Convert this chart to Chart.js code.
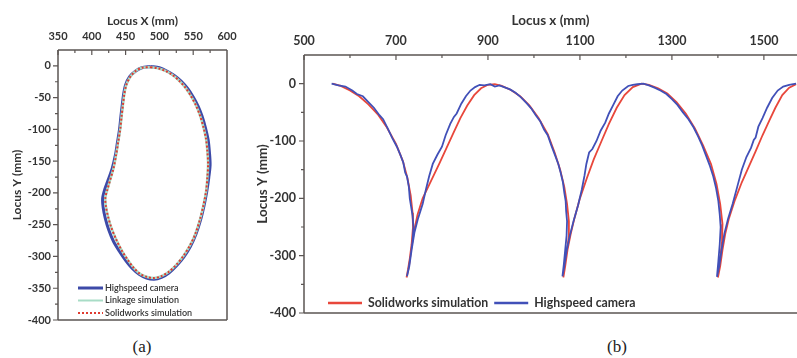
<!DOCTYPE html>
<html>
<head>
<meta charset="utf-8">
<script src="https://cdn.jsdelivr.net/npm/chart.js@4.4.1/dist/chart.umd.min.js"></script>
<style>
    body { margin: 0; background: #fff; width: 797px; height: 358px; position: relative; overflow: hidden; }
    canvas { position: absolute; top: 0; }
    #joonisA { left: 0; }
    #joonisB { left: 250px; }
    .allkiri { position: absolute; top: 337px; font: 17px "Liberation Serif", serif; color: #222; transform: translateX(-50%); }
</style>
</head>
<body>
<canvas id="joonisA" width="250" height="336"></canvas>
<canvas id="joonisB" width="547" height="330"></canvas>
<div class="allkiri" style="left:142px">(a)</div>
<div class="allkiri" style="left:617px">(b)</div>
<script>
// Joonise (a) andmed: [Locus X, Locus Y] mm
const kaameraA = [
    [487, -1], [500, -3], [511, -8], [522, -15], [532, -24], [542, -36], [550, -49], [557, -63],
    [563, -79], [568, -97], [572, -116], [574, -136], [575, -156], [573, -176], [570, -198], [566, -220],
    [561, -242], [554, -265], [546, -284], [536, -301], [525, -315], [514, -326], [503, -333], [492, -336],
    [481, -334], [470, -328], [460, -319], [450, -306], [441, -292], [432, -276], [425, -258], [420, -240],
    [417, -224], [416, -209], [419, -195], [424, -180], [430, -162], [435, -140], [438, -120], [441, -100],
    [443, -80], [445, -62], [447, -45], [450, -30], [456, -17], [465, -8], [474, -3], [487, -1]
];
const lingidA = [
    [487, -2], [499, -4], [509, -8], [519, -14], [529, -23], [539, -35], [547, -48], [554, -62],
    [560, -78], [565, -96], [569, -115], [571, -135], [572, -155], [571, -175], [569, -198], [565, -220],
    [560, -242], [553, -265], [545, -283], [535, -300], [525, -313], [514, -324], [503, -331], [492, -334],
    [481, -332], [471, -327], [462, -318], [453, -305], [444, -290], [436, -273], [429, -255], [424, -237],
    [421, -222], [420, -208], [423, -195], [427, -180], [432, -162], [436, -140], [439, -120], [442, -100],
    [444, -80], [446, -62], [448, -45], [451, -30], [457, -17], [465, -8], [474, -3], [487, -2]
];
const solidworksA = [
    [487, -2], [499, -4], [509, -8], [519, -14], [529, -23], [539, -35], [547, -48], [554, -62],
    [560, -78], [565, -96], [569, -115], [571, -135], [572, -155], [571, -175], [569, -198], [565, -220],
    [560, -242], [553, -265], [545, -283], [535, -300], [525, -313], [514, -324], [503, -331], [492, -334],
    [481, -332], [471, -327], [462, -318], [453, -305], [444, -290], [436, -273], [429, -255], [424, -237],
    [421, -222], [420, -208], [423, -195], [427, -180], [432, -162], [436, -140], [439, -120], [442, -100],
    [444, -80], [446, -62], [448, -45], [451, -30], [457, -17], [465, -8], [474, -3], [487, -2]
];

// Joonise (b) andmed: [Locus x, Locus Y] mm
const solidworksB = [
    [562, 0], [580, -4], [600, -12], [620, -22], [640, -36], [660, -53], [680, -76], [700, -105],
    [715, -135], [725, -165], [732, -195], [736, -225], [737, -250], [734, -280], [730, -305], [726, -325],
    [723, -338], [728, -320], [733, -290], [739, -258], [747, -228], [758, -200], [770, -180], [782, -160],
    [795, -138], [810, -112], [825, -86], [840, -60], [855, -38], [870, -20], [885, -8], [900, -2],
    [915, -1], [930, -4], [950, -11], [970, -22], [990, -38], [1010, -60], [1030, -88], [1045, -120],
    [1057, -150], [1066, -180], [1072, -210], [1076, -240], [1076, -265], [1072, -290], [1068, -315], [1064, -338],
    [1068, -318], [1073, -290], [1080, -262], [1088, -235], [1100, -200], [1115, -165], [1130, -132], [1147, -100],
    [1163, -70], [1180, -42], [1197, -20], [1215, -6], [1234, 0], [1250, -2], [1270, -8], [1290, -17],
    [1310, -32], [1330, -52], [1350, -78], [1368, -108], [1385, -140], [1397, -175], [1405, -210], [1410, -245],
    [1409, -275], [1405, -305], [1402, -325], [1400, -338], [1405, -318], [1410, -290], [1416, -262], [1424, -235],
    [1437, -203], [1452, -172], [1467, -145], [1482, -118], [1497, -90], [1512, -64], [1525, -42], [1540, -20],
    [1555, -7], [1570, -1]
];
const kaameraB = [
    [560, 0], [575, -3], [590, -5], [605, -12], [615, -18], [628, -22], [640, -32], [652, -42],
    [664, -55], [672, -62], [682, -78], [692, -95], [702, -110], [710, -125], [716, -138], [720, -155],
    [724, -162], [728, -180], [730, -200], [733, -215], [736, -230], [738, -250], [736, -275], [732, -300],
    [728, -320], [724, -336], [729, -318], [734, -290], [740, -260], [748, -235], [758, -210], [765, -185],
    [772, -162], [780, -140], [790, -124], [800, -110], [808, -90], [818, -70], [826, -58], [832, -52],
    [842, -35], [852, -22], [862, -12], [872, -6], [882, -2], [892, -3], [905, -1], [915, -5],
    [925, -3], [935, -6], [948, -10], [960, -16], [972, -24], [984, -34], [994, -43], [1004, -55],
    [1014, -66], [1022, -80], [1030, -90], [1038, -108], [1046, -125], [1053, -140], [1058, -155], [1063, -172],
    [1066, -190], [1069, -205], [1070, -222], [1072, -240], [1071, -265], [1068, -290], [1065, -315], [1062, -336],
    [1066, -318], [1071, -292], [1078, -265], [1086, -240], [1096, -212], [1104, -185], [1110, -160], [1114, -140],
    [1120, -120], [1127, -114], [1136, -100], [1145, -82], [1155, -68], [1163, -52], [1172, -38], [1182, -22],
    [1192, -12], [1205, -4], [1215, -2], [1225, -1], [1238, 0], [1250, -3], [1262, -7], [1275, -12],
    [1288, -18], [1300, -27], [1312, -37], [1324, -50], [1336, -62], [1347, -76], [1357, -92], [1366, -108],
    [1374, -125], [1382, -142], [1390, -162], [1396, -182], [1401, -205], [1404, -228], [1406, -250], [1404, -280],
    [1401, -310], [1398, -337], [1403, -318], [1408, -290], [1414, -262], [1422, -236], [1432, -210], [1442, -180],
    [1452, -150], [1462, -128], [1472, -112], [1478, -98], [1482, -94], [1488, -75], [1497, -60], [1507, -42],
    [1518, -25], [1530, -12], [1542, -5], [1555, -2], [1570, 0]
];

// Paaridest punktid
const punktid = (paarid) => paarid.map(([x, y]) => ({ x: x, y: y }));

const tekstiVarv = '#333';
const teljeVarv = '#5b5553';

// Plugin, mis joonistab raami ja tikid
const raamJaTikid = {
    id: 'raamJaTikid',
    afterDraw(chart) {
        const opts = chart.options.raam;
        const ctx = chart.ctx;
        const { left, right, top, bottom } = chart.chartArea;
        const sx = chart.scales.x;
        const sy = chart.scales.y;
        ctx.save();
        ctx.setLineDash([]);
        ctx.strokeStyle = teljeVarv;
        ctx.lineWidth = 1.5;
        ctx.beginPath();
        ctx.moveTo(left, top); ctx.lineTo(right, top);
        ctx.moveTo(left, top); ctx.lineTo(left, bottom);
        ctx.moveTo(left, bottom); ctx.lineTo(right, bottom);
        if (opts.parem) { ctx.moveTo(right, top); ctx.lineTo(right, bottom); }
        ctx.stroke();
        ctx.lineWidth = 1.2;
        ctx.beginPath();
        // x-telje tikid (ülal, sissepoole)
        for (let v = sx.min; v < sx.max - 1e-6; v += opts.xSamm / 2) {
            const suur = Math.abs(((v - sx.min) / opts.xSamm) % 1) < 1e-6;
            const px = sx.getPixelForValue(v);
            ctx.moveTo(px, top);
            ctx.lineTo(px, top + (suur ? 5 : 3));
        }
        // y-telje tikid (vasakul, väljapoole)
        for (let v = sy.min; v < sy.max - 1e-6; v += opts.ySamm / 2) {
            const suur = Math.abs(((v - sy.min) / opts.ySamm) % 1) < 1e-6;
            const py = sy.getPixelForValue(v);
            ctx.moveTo(left, py);
            ctx.lineTo(left - (suur ? 5 : 3), py);
        }
        ctx.stroke();
        ctx.restore();
    }
};

// Legend, mis on joonise sees
const sisemineLegend = {
    id: 'sisemineLegend',
    afterDraw(chart) {
        const opts = chart.options.legendSees;
        const ctx = chart.ctx;
        const { left, bottom } = chart.chartArea;
        let x = left + opts.x;
        let y = bottom - opts.y;
        ctx.save();
        ctx.font = opts.font;
        ctx.textBaseline = 'middle';
        chart.data.datasets.forEach((ds, i) => {
            ctx.strokeStyle = ds.borderColor;
            ctx.lineWidth = opts.jooneLaius[i];
            ctx.setLineDash(ds.borderDash || []);
            ctx.beginPath();
            ctx.moveTo(x, y);
            ctx.lineTo(x + opts.pikkus, y);
            ctx.stroke();
            ctx.setLineDash([]);
            ctx.fillStyle = tekstiVarv;
            ctx.fillText(ds.label, x + opts.pikkus + opts.vahe, y);
            if (opts.horisontaalne) {
                x += opts.pikkus + opts.vahe + ctx.measureText(ds.label).width + opts.samm;
            } else {
                y += opts.rida;
            }
        });
        ctx.restore();
    }
};

// Telgede ühised seaded
function telg(min, max, samm, pealkiri, suurus, pealkirjaPadding, tikiPadding, fikseeritud, onX) {
    return {
        type: 'linear',
        position: onX ? 'top' : 'left',
        min: min,
        max: max,
        grid: { display: false, drawTicks: false },
        border: { display: false },
        afterBuildTicks(scale) {
            const tikid = [];
            for (let v = min; v <= max; v += samm) tikid.push({ value: v });
            scale.ticks = tikid;
        },
        ticks: {
            padding: tikiPadding,
            color: tekstiVarv,
            font: { family: 'Lato', weight: 'bold', size: suurus },
            maxRotation: 0,
            autoSkip: false,
            callback: (v) => String(v)
        },
        title: {
            display: true,
            text: pealkiri,
            color: tekstiVarv,
            font: { family: 'Lato', weight: 'bold', size: suurus + 1 },
            padding: { top: pealkirjaPadding, bottom: 0 }
        },
        afterFit(scale) {
            if (onX) scale.height = fikseeritud; else scale.width = fikseeritud;
        }
    };
}

// Joonis (a)
new Chart(document.getElementById('joonisA').getContext('2d'), {
    type: 'scatter',
    data: {
        datasets: [
            { label: 'Highspeed camera', data: punktid(kaameraA), borderColor: '#3d4aa8', borderWidth: 3, order: 2 },
            { label: 'Linkage simulation', data: punktid(lingidA), borderColor: '#a8dcc6', borderWidth: 2.5, order: 1 },
            { label: 'Solidworks simulation', data: punktid(solidworksA), borderColor: '#e03b30', borderWidth: 2, borderDash: [2, 2], order: 0 }
        ].map(ds => Object.assign(ds, { showLine: true, pointRadius: 0, tension: 0.3 }))
    },
    options: {
        responsive: false,
        animation: false,
        layout: { padding: { left: 0, top: 0, right: 23, bottom: 16 } },
        scales: {
            x: telg(350, 600, 50, 'Locus X (mm)', 11, 14, 7, 50, true),
            y: telg(-400, 25, 50, 'Locus Y (mm)', 11, 10, 7, 58, false)
        },
        plugins: {
            legend: { display: false },
            tooltip: { enabled: false }
        },
        raam: { parem: true, xSamm: 50, ySamm: 50 },
        legendSees: { x: 20, y: 32, pikkus: 25, vahe: 2, rida: 12.5, font: '600 9px Lato', jooneLaius: [3, 2, 2] }
    },
    plugins: [raamJaTikid, sisemineLegend]
});

// Joonis (b)
new Chart(document.getElementById('joonisB').getContext('2d'), {
    type: 'scatter',
    data: {
        datasets: [
            { label: 'Solidworks simulation', data: punktid(solidworksB), borderColor: '#e8473b', borderWidth: 1.8, order: 1 },
            { label: 'Highspeed camera', data: punktid(kaameraB), borderColor: '#4150b8', borderWidth: 1.8, order: 0 }
        ].map(ds => Object.assign(ds, { showLine: true, pointRadius: 0, tension: 0 }))
    },
    options: {
        responsive: false,
        animation: false,
        layout: { padding: { left: 0, top: 0, right: 0, bottom: 17 } },
        scales: {
            x: telg(500, 1572, 200, 'Locus x (mm)', 12.5, 13, 7, 55, true),
            y: telg(-400, 50, 100, 'Locus Y (mm)', 12.5, 5, 8, 54, false)
        },
        plugins: {
            legend: { display: false },
            tooltip: { enabled: false }
        },
        raam: { parem: false, xSamm: 200, ySamm: 100 },
        legendSees: { x: 24, y: 10, pikkus: 34, vahe: 6, samm: 6, horisontaalne: true, font: 'bold 12.3px Lato', jooneLaius: [2.5, 2.5] }
    },
    plugins: [raamJaTikid, sisemineLegend]
});
</script>
</body>
</html>
